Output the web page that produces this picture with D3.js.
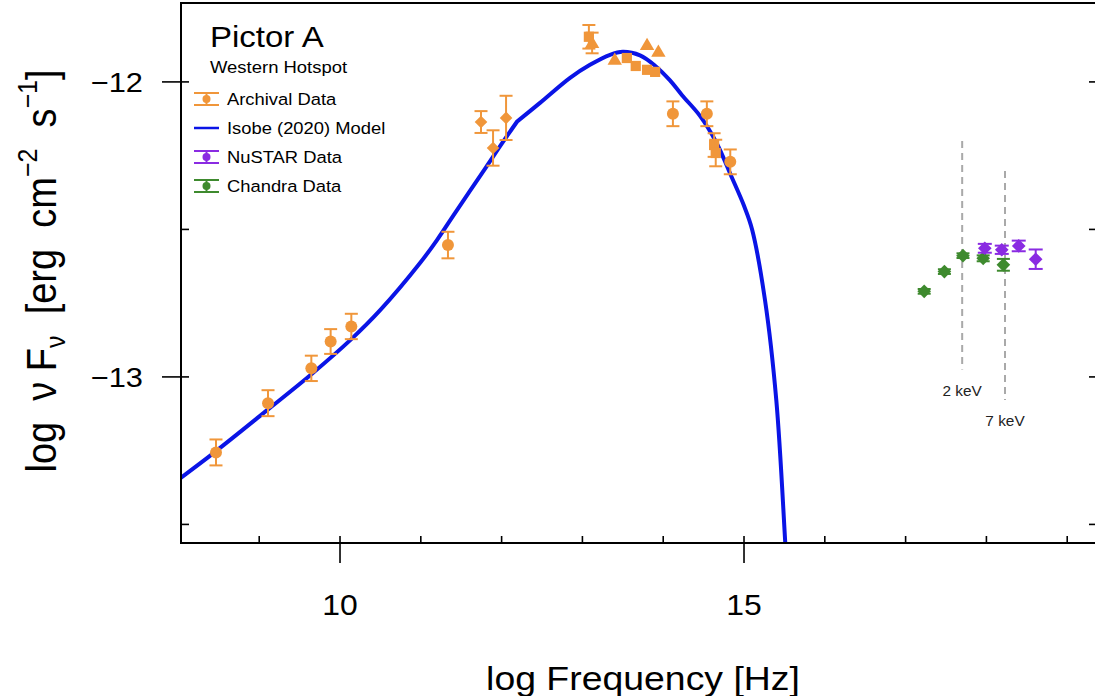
<!DOCTYPE html>
<html>
<head>
<meta charset="utf-8">
<script src="https://cdn.jsdelivr.net/npm/d3@7"></script>
<style>
  html, body { margin: 0; padding: 0; background: #fff; }
  svg { display: block; font-family: "Liberation Sans", Arial, sans-serif; }
</style>
</head>
<body>
<div id="chart"></div>
<script>
// ---------------- DATA ----------------
const archivalX = [8.465, 9.109, 9.645, 9.884, 10.140, 11.336, 11.745, 11.894, 12.055, 13.08, 13.12, 13.40, 13.55, 13.66, 13.80, 13.90, 13.80, 13.94, 14.12, 14.54, 14.63, 14.65, 14.83];
const archivalY = [-13.256, -13.089, -12.971, -12.880, -12.829, -12.553, -12.136, -12.224, -12.122, -11.847, -11.868, -11.925, -11.919, -11.946, -11.959, -11.966, -11.875, -11.898, -12.108, -12.108, -12.214, -12.241, -12.271];
const archivalErr = [0.044, 0.044, 0.043, 0.042, 0.043, 0.045, 0.037, 0.060, 0.075, 0.040, 0.035, 0, 0, 0, 0, 0, 0, 0, 0.042, 0.042, 0.040, 0.045, 0.042];
const archivalShape = ["circle", "circle", "circle", "circle", "circle", "circle", "diamond", "diamond", "diamond", "square", "triangle", "triangle", "square", "square", "square", "square", "triangle", "triangle", "circle", "circle", "square", "square", "circle"];

const modelX = [7.98, 8.43, 9.11, 9.65, 10.14, 10.5, 10.99, 11.2, 11.4, 11.8, 12.0, 12.19, 12.475, 12.847, 13.094, 13.342, 13.5, 13.713, 13.899, 14.084, 14.233, 14.455, 14.653, 14.851, 15.0, 15.1, 15.26, 15.4, 15.51, 15.55];
const modelY = [-13.352, -13.259, -13.11, -12.99, -12.872, -12.773, -12.614, -12.536, -12.454, -12.292, -12.21, -12.135, -12.071, -11.986, -11.942, -11.908, -11.898, -11.910, -11.945, -11.995, -12.045, -12.115, -12.203, -12.325, -12.42, -12.5, -12.74, -13.08, -13.56, -13.75];
const modelBreakX = 12.19;

const nustarX = [17.98, 18.19, 18.40, 18.61];
const nustarY = [-12.564, -12.569, -12.556, -12.601];
const nustarErr = [0.015, 0.014, 0.018, 0.033];

const chandraX = [17.23, 17.48, 17.71, 17.96, 18.21];
const chandraY = [-12.710, -12.643, -12.589, -12.598, -12.620];
const chandraErr = [0.008, 0.008, 0.008, 0.010, 0.020];

const keVLabels = ["2 keV", "7 keV"];
const keVX = [17.70, 18.23];
const keVTop = [-12.20, -12.302];
const keVBottom = [-12.975, -13.078];

const xMajorTicks = [10, 15];
const xMinorTicks = [9, 11, 12, 13, 14, 16, 17, 18, 19];
const yMajorTicks = [-12, -13];
const yMinorTicks = [-12.5, -13.5];

const legendLabels = ["Archival Data", "Isobe (2020) Model", "NuSTAR Data", "Chandra Data"];

// ---------------- STYLE ----------------
const W = 1095, H = 696;
const C_ORANGE = "#F0963A";
const C_BLUE = "#0A14E6";
const C_PURPLE = "#8A2BE2";
const C_GREEN = "#3E8A2E";
const STRETCH = 1.1;

const pLeft = 181, pTop = 3, pRight = 1097, pBottom = 543;

const x = d3.scaleLinear().domain([8.032, 19.4]).range([181, 181 + (19.4 - 8.032) * 80.8]);
const y = d3.scaleLinear().domain([-13.563, -11.7325]).range([543, 3]);

const svg = d3.select("#chart").append("svg").attr("width", W).attr("height", H);

svg.append("defs").append("clipPath").attr("id", "plotclip")
  .append("rect").attr("x", pLeft).attr("y", pTop).attr("width", pRight - pLeft).attr("height", pBottom - pTop);

function addText(g, tx, ty, str, size, anchor, fill) {
  return g.append("text")
    .attr("transform", `translate(${tx},${ty}) scale(${STRETCH},1)`)
    .attr("text-anchor", anchor || "start")
    .attr("font-size", size)
    .attr("fill", fill || "#000")
    .text(str);
}

// Dashed keV lines
const kev = svg.append("g");
keVX.forEach((v, i) => {
  kev.append("line")
    .attr("x1", x(v)).attr("x2", x(v))
    .attr("y1", y(keVTop[i])).attr("y2", y(keVBottom[i]))
    .attr("stroke", "#a9a9a9").attr("stroke-width", 2).attr("stroke-dasharray", "7,5");
  addText(kev, x(v), y(keVBottom[i]) + 26, keVLabels[i], 14, "middle", "#222");
});

// Model curve (two smooth pieces joined at the spectral break)
const plot = svg.append("g").attr("clip-path", "url(#plotclip)");
const modelData = modelX.map((v, i) => [v, modelY[i]]);
const seg1 = modelData.filter(d => d[0] <= modelBreakX);
const seg2 = modelData.filter(d => d[0] >= modelBreakX);
const lineGen = d3.line().x(d => x(d[0])).y(d => y(d[1])).curve(d3.curveCatmullRom.alpha(0.5));
plot.append("path")
  .attr("d", lineGen(seg1) + lineGen(seg2).replace(/^M/, "L"))
  .attr("fill", "none").attr("stroke", C_BLUE).attr("stroke-width", 4)
  .attr("stroke-linejoin", "miter");

// Symbol helper
function drawSymbol(g, shape, cx, cy, size, color) {
  if (shape === "circle") {
    g.append("circle").attr("cx", cx).attr("cy", cy).attr("r", size).attr("fill", color);
  } else if (shape === "diamond") {
    const s = size * 1.05;
    g.append("path").attr("d", `M${cx},${cy - s}L${cx + s},${cy}L${cx},${cy + s}L${cx - s},${cy}Z`).attr("fill", color);
  } else if (shape === "square") {
    const s = size * 0.85;
    g.append("rect").attr("x", cx - s).attr("y", cy - s).attr("width", 2 * s).attr("height", 2 * s).attr("fill", color);
  } else if (shape === "triangle") {
    const s = size * 1.2;
    g.append("path").attr("d", `M${cx},${cy - s}L${cx + s},${cy + s * 0.7}L${cx - s},${cy + s * 0.7}Z`).attr("fill", color);
  }
}

function errorBar(g, cx, cy, ylo, yhi, color, cap, sw) {
  g.append("line").attr("x1", cx).attr("x2", cx).attr("y1", ylo).attr("y2", yhi)
    .attr("stroke", color).attr("stroke-width", sw);
  g.append("line").attr("x1", cx - cap).attr("x2", cx + cap).attr("y1", ylo).attr("y2", ylo)
    .attr("stroke", color).attr("stroke-width", sw);
  g.append("line").attr("x1", cx - cap).attr("x2", cx + cap).attr("y1", yhi).attr("y2", yhi)
    .attr("stroke", color).attr("stroke-width", sw);
}

// Archival data
const arch = svg.append("g");
archivalX.forEach((v, i) => {
  const cx = x(v), cy = y(archivalY[i]);
  if (archivalErr[i] > 0) {
    errorBar(arch, cx, cy, y(archivalY[i] - archivalErr[i]), y(archivalY[i] + archivalErr[i]), C_ORANGE, 6.5, 2);
  }
  drawSymbol(arch, archivalShape[i], cx, cy, 6, C_ORANGE);
});

// Chandra
const ch = svg.append("g");
chandraX.forEach((v, i) => {
  const cx = x(v), cy = y(chandraY[i]);
  errorBar(ch, cx, cy, y(chandraY[i] - chandraErr[i]), y(chandraY[i] + chandraErr[i]), C_GREEN, 6.5, 2);
  drawSymbol(ch, "diamond", cx, cy, 6.5, C_GREEN);
});

// NuSTAR
const nu = svg.append("g");
nustarX.forEach((v, i) => {
  const cx = x(v), cy = y(nustarY[i]);
  errorBar(nu, cx, cy, y(nustarY[i] - nustarErr[i]), y(nustarY[i] + nustarErr[i]), C_PURPLE, 7, 2);
  drawSymbol(nu, "diamond", cx, cy, 6.5, C_PURPLE);
});

// Frame
svg.append("rect").attr("x", pLeft).attr("y", pTop).attr("width", pRight - pLeft).attr("height", pBottom - pTop)
  .attr("fill", "none").attr("stroke", "#000").attr("stroke-width", 2);

// Axes ticks
const axes = svg.append("g").attr("stroke", "#000").attr("stroke-width", 1.6);
xMajorTicks.forEach(t => {
  axes.append("line").attr("x1", x(t)).attr("x2", x(t)).attr("y1", pBottom - 7).attr("y2", pBottom + 20);
});
xMinorTicks.forEach(t => {
  axes.append("line").attr("x1", x(t)).attr("x2", x(t)).attr("y1", pBottom - 7).attr("y2", pBottom);
});
yMajorTicks.forEach(t => {
  axes.append("line").attr("x1", pLeft - 19).attr("x2", pLeft + 8).attr("y1", y(t)).attr("y2", y(t));
  axes.append("line").attr("x1", pRight - 8).attr("x2", pRight).attr("y1", y(t)).attr("y2", y(t));
});
yMinorTicks.forEach(t => {
  axes.append("line").attr("x1", pLeft).attr("x2", pLeft + 8).attr("y1", y(t)).attr("y2", y(t));
  axes.append("line").attr("x1", pRight - 8).attr("x2", pRight).attr("y1", y(t)).attr("y2", y(t));
});

// Tick labels
const tl = svg.append("g");
xMajorTicks.forEach(t => {
  addText(tl, x(t), 615, d3.format("d")(t), 29, "middle");
});
yMajorTicks.forEach(t => {
  addText(tl, 143, y(t) + 10, "\u2212" + Math.abs(t), 28, "end");
});

// Axis titles
addText(svg, 643, 690, "log Frequency [Hz]", 34, "middle");

const yt = svg.append("text")
  .attr("transform", "translate(56,271) rotate(-90) scale(1,1.1)")
  .attr("text-anchor", "middle").attr("font-size", 38).attr("fill", "#000")
  .style("white-space", "pre");
yt.append("tspan").text("log  \u03BD F");
yt.append("tspan").attr("font-size", 25).attr("dy", 8).text("\u03BD");
yt.append("tspan").attr("dy", -8).text("  [erg  cm");
yt.append("tspan").attr("font-size", 25).attr("dy", -17).text("\u22122");
yt.append("tspan").attr("dy", 17).text("  s");
yt.append("tspan").attr("font-size", 25).attr("dy", -17).text("\u22121");
yt.append("tspan").attr("dy", 17).text("]");

// Legend
const lg = svg.append("g");
addText(lg, 210, 47, "Pictor A", 30, "start");
addText(lg, 210, 73, "Western Hotspot", 16.8, "start");
const legColors = [C_ORANGE, C_BLUE, C_PURPLE, C_GREEN];
const legY = [99, 128, 157, 186];
legendLabels.forEach((lab, i) => {
  const cy = legY[i];
  if (i === 1) {
    lg.append("line").attr("x1", 194).attr("x2", 219).attr("y1", cy).attr("y2", cy)
      .attr("stroke", legColors[i]).attr("stroke-width", 2.5);
  } else {
    lg.append("line").attr("x1", 194).attr("x2", 219).attr("y1", cy - 6).attr("y2", cy - 6).attr("stroke", legColors[i]).attr("stroke-width", 2);
    lg.append("line").attr("x1", 194).attr("x2", 219).attr("y1", cy + 6).attr("y2", cy + 6).attr("stroke", legColors[i]).attr("stroke-width", 2);
    lg.append("line").attr("x1", 206.5).attr("x2", 206.5).attr("y1", cy - 6).attr("y2", cy + 6).attr("stroke", legColors[i]).attr("stroke-width", 2);
    lg.append("circle").attr("cx", 206.5).attr("cy", cy).attr("r", 4).attr("fill", legColors[i]);
  }
  addText(lg, 227, cy + 6, lab, 16.7, "start");
});
</script>
</body>
</html>
